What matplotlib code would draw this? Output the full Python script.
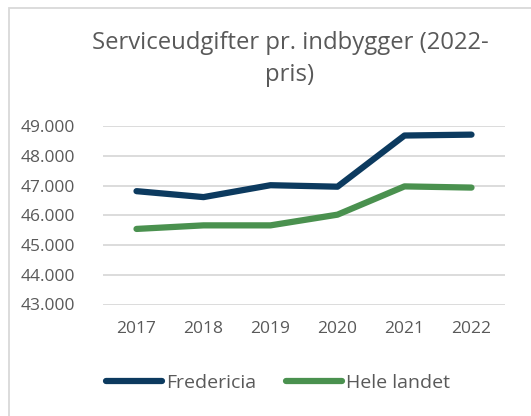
import matplotlib
matplotlib.use("Agg")
import matplotlib.pyplot as plt
from matplotlib.patches import Rectangle
from matplotlib.lines import Line2D

years = ["2017", "2018", "2019", "2020", "2021", "2022"]
fredericia = [46810, 46610, 47010, 46960, 48680, 48710]
hele_landet = [45540, 45660, 45660, 46020, 46970, 46930]
yticks = [43000, 44000, 45000, 46000, 47000, 48000, 49000]
ytick_labels = ["43.000", "44.000", "45.000", "46.000", "47.000", "48.000", "49.000"]
title = "Serviceudgifter pr. indbygger (2022-\npris)"

navy = "#0C3A5F"
green = "#4A914F"
txt = "#595959"
grid = "#D9D9D9"

plt.rcParams['font.family'] = ['Open Sans', 'DejaVu Sans']

W, H = 531, 416
fig = plt.figure(figsize=(W / 100, H / 100), dpi=100)
fig.patch.set_facecolor("white")

# chart border (partly outside the crop)
fig.add_artist(Rectangle((9 / W, -0.1), 1.2, 1 - 8 / H + 0.1, transform=fig.transFigure,
                         fill=False, edgecolor=grid, linewidth=1.3))

ax = fig.add_axes([103 / W, 1 - 304.5 / H, (505 - 103) / W, (304.5 - 126) / H])
x = list(range(len(years)))
ax.plot(x, fredericia, color=navy, linewidth=4.5, solid_capstyle="round", solid_joinstyle="round", zorder=3)
ax.plot(x, hele_landet, color=green, linewidth=4.5, solid_capstyle="round", solid_joinstyle="round", zorder=3)

ax.set_xlim(-0.5, len(years) - 0.5)
ax.set_ylim(43000, 49000)
ax.set_yticks(yticks)
ax.set_yticklabels(ytick_labels)
ax.set_xticks(x)
ax.set_xticklabels(years)
ax.tick_params(axis="both", length=0, labelsize=12.5, colors=txt)
ax.tick_params(axis="y", pad=20)
ax.tick_params(axis="x", pad=12)
for s in ax.spines.values():
    s.set_visible(False)
ax.yaxis.grid(True, color=grid, linewidth=1.3)
ax.set_axisbelow(True)
ax.set_facecolor("none")

fig.text(290 / W, 1 - 59 / H, title, ha="center", va="center", fontsize=17.2,
         color=txt, linespacing=1.4)

handles = [Line2D([], [], color=navy, linewidth=4.5, solid_capstyle="round"),
           Line2D([], [], color=green, linewidth=4.5, solid_capstyle="round")]
fig.legend(handles, ["Fredericia", "Hele landet"], loc="center", bbox_to_anchor=(278 / W, 1 - 383 / H),
           ncol=2, frameon=False, fontsize=14, labelcolor=txt, handlelength=2.9,
           handletextpad=0.2, columnspacing=1.5)

fig.savefig("out.png", dpi=100)
